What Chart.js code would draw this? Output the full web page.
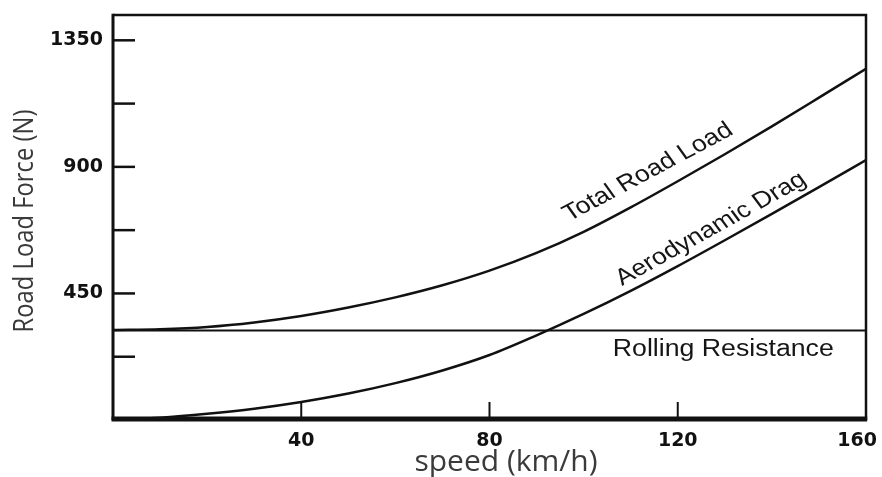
<!DOCTYPE html>
<html>
<head>
<meta charset="utf-8">
<title>Road load force vs speed</title>
<script src="https://cdn.jsdelivr.net/npm/chart.js@4.4.1/dist/chart.umd.min.js"></script>
<style>
  html, body { margin: 0; padding: 0; background: #fff; }
  #wrap { width: 882px; height: 477px; position: relative; }
</style>
</head>
<body>
<div id="wrap"><canvas id="chart"></canvas></div>
<script>
// speed in km/h, forces in N
const speeds = [0, 10, 20, 30, 40, 50, 60, 70, 80, 90, 100, 110, 120, 130, 140, 150, 160];
const totalLoad = [320, 323, 331, 347, 370, 400, 436, 479, 531, 594, 669, 756, 849, 945, 1044, 1146, 1249];
const aeroDrag = [0, 8, 22, 40, 64, 94, 131, 176, 231, 301, 377, 459, 547, 639, 733, 828, 924];
const rollingSpeeds = [0, 160];
const rollingForce = [318, 318];

const xTicks = [40, 80, 120, 160];
const yTicks = [225, 450, 675, 900, 1125, 1350];
const yLabelled = [450, 900, 1350];

// text sitting on the curves
const curveNotes = [
  { text: 'Total Road Load', speed: 114.5, force: 862, angle: 28 },
  { text: 'Aerodynamic Drag', speed: 127.9, force: 660, angle: 29 },
];
const rollingNote = { text: 'Rolling Resistance', speed: 106.2, force: 249 };

const toPoints = (xs, ys) => xs.map((x, i) => ({ x: x, y: ys[i] }));

const STRETCH = 1.16;

const decorations = {
  id: 'decorations',
  afterDatasetsDraw(chart) {
    const ctx = chart.ctx;
    const a = chart.chartArea;
    const xs = chart.scales.x;
    const ys = chart.scales.y;
    ctx.save();
    ctx.strokeStyle = '#111';
    ctx.lineCap = 'butt';

    // frame
    ctx.lineWidth = 2.5;
    ctx.beginPath();
    ctx.moveTo(a.left, a.top);
    ctx.lineTo(a.right, a.top);
    ctx.lineTo(a.right, a.bottom);
    ctx.stroke();
    ctx.lineWidth = 3;
    ctx.beginPath();
    ctx.moveTo(a.left, a.top - 1.2);
    ctx.lineTo(a.left, a.bottom);
    ctx.stroke();
    ctx.lineWidth = 5;
    ctx.beginPath();
    ctx.moveTo(a.left - 1.5, a.bottom - 1);
    ctx.lineTo(a.right + 1.2, a.bottom - 1);
    ctx.stroke();

    // inward tick marks
    ctx.lineWidth = 2.5;
    yTicks.forEach(v => {
      const y = ys.getPixelForValue(v);
      ctx.beginPath();
      ctx.moveTo(a.left, y);
      ctx.lineTo(a.left + 22, y);
      ctx.stroke();
    });
    ctx.lineWidth = 2;
    xTicks.slice(0, -1).forEach(v => {
      const x = xs.getPixelForValue(v);
      ctx.beginPath();
      ctx.moveTo(x, a.bottom - 2);
      ctx.lineTo(x, a.bottom - 18);
      ctx.stroke();
    });

    // x tick labels
    ctx.fillStyle = '#111';
    ctx.font = 'bold 19px "DejaVu Sans"';
    ctx.textAlign = 'center';
    ctx.textBaseline = 'middle';
    xTicks.forEach(v => {
      const txt = String(v);
      const w = ctx.measureText(txt).width;
      const x = Math.min(xs.getPixelForValue(v), chart.width - 5 - w / 2);
      ctx.fillText(txt, x, a.bottom + 21);
    });

    // axis titles
    ctx.fillStyle = '#3a3a3a';
    ctx.font = '30px "Open Sans"';
    ctx.textAlign = 'center';
    ctx.textBaseline = 'alphabetic';
    ctx.fillText('speed (km/h)', 506, 471);

    ctx.save();
    ctx.translate(33, 221);
    ctx.rotate(-Math.PI / 2);
    ctx.scale(0.85, 1);
    ctx.font = '28px "Open Sans"';
    ctx.fillText('Road Load Force (N)', 0, 0);
    ctx.restore();

    // curve names
    ctx.fillStyle = '#151515';
    ctx.font = '23px "Liberation Sans"';
    curveNotes.forEach(n => {
      const x = xs.getPixelForValue(n.speed);
      const y = ys.getPixelForValue(n.force);
      const t = Math.atan(Math.tan(n.angle * Math.PI / 180) * STRETCH);
      ctx.save();
      ctx.translate(x, y);
      ctx.scale(STRETCH, 1);
      ctx.rotate(-t);
      ctx.textAlign = 'center';
      ctx.fillText(n.text, 0, 0);
      ctx.restore();
    });

    ctx.save();
    ctx.translate(xs.getPixelForValue(rollingNote.speed), ys.getPixelForValue(rollingNote.force));
    ctx.scale(STRETCH, 1);
    ctx.textAlign = 'left';
    ctx.textBaseline = 'middle';
    ctx.fillText(rollingNote.text, 0, 0);
    ctx.restore();

    ctx.restore();
  }
};

const lineStyle = {
  borderColor: '#111',
  borderWidth: 2.5,
  pointRadius: 0,
  fill: false,
};

// keep the plot box fixed: no extra room for end labels
const noEdgePadding = s => {
  s.paddingTop = 0;
  s.paddingBottom = 0;
  s.paddingLeft = 0;
  s.paddingRight = 0;
};

new Chart(document.getElementById('chart'), {
  type: 'line',
  data: {
    datasets: [
      Object.assign({ label: 'Total Road Load', data: toPoints(speeds, totalLoad), cubicInterpolationMode: 'monotone' }, lineStyle),
      Object.assign({ label: 'Aerodynamic Drag', data: toPoints(speeds, aeroDrag), cubicInterpolationMode: 'monotone' }, lineStyle),
      Object.assign({ label: 'Rolling Resistance', data: toPoints(rollingSpeeds, rollingForce) }, lineStyle, { borderWidth: 2 }),
    ],
  },
  options: {
    responsive: true,
    maintainAspectRatio: false,
    animation: false,
    layout: { padding: { top: 15, right: 16, left: 0, bottom: 0 } },
    plugins: { legend: { display: false }, tooltip: { enabled: false } },
    scales: {
      x: {
        type: 'linear',
        min: 0,
        max: 160,
        grid: { display: false },
        border: { display: false },
        ticks: { display: false },
        afterFit: s => { s.height = 57; noEdgePadding(s); },
      },
      y: {
        min: 0,
        max: 1440,
        grid: { display: false },
        border: { display: false },
        afterBuildTicks: s => { s.ticks = yTicks.map(v => ({ value: v })); },
        ticks: {
          autoSkip: false,
          padding: 2,
          color: '#111',
          font: { family: 'DejaVu Sans', weight: 'bold', size: 19 },
          callback: v => (yLabelled.includes(v) ? String(v) : ''),
        },
        afterFit: s => { s.width = 113; noEdgePadding(s); },
      },
    },
  },
  plugins: [decorations],
});
</script>
</body>
</html>
